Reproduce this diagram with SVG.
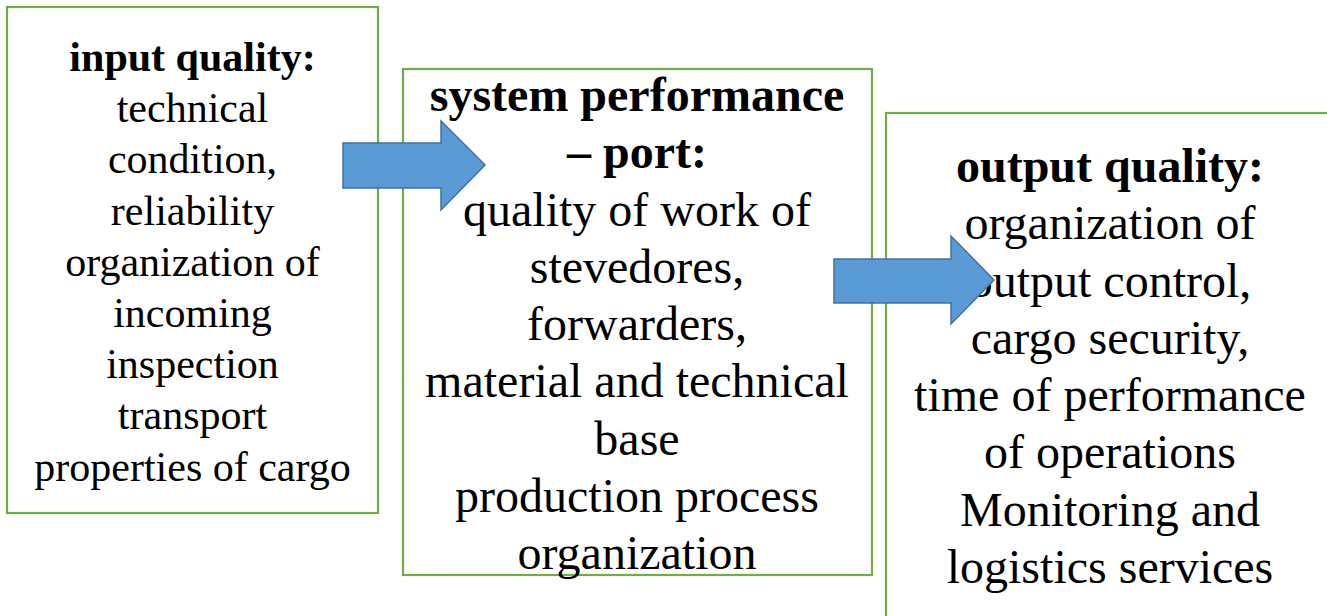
<svg xmlns="http://www.w3.org/2000/svg" width="1327" height="616" viewBox="0 0 1327 616">
<style>
.box{fill:#fff;stroke:#70AD47;stroke-width:2.2}
.arrow{fill:#5B9BD5;stroke:#41719C;stroke-width:1.5;stroke-linejoin:miter}
.t{font-family:"Liberation Serif","Times New Roman",serif;fill:#000;text-anchor:middle}
.s1{font-size:42px}
.s2{font-size:48px}
.b{font-weight:bold}
</style>
<rect width="1327" height="616" fill="#fff"/>
<g id="node-input">
<rect class="box" x="7" y="7" width="371" height="506"/>
<text class="t s1"><tspan class="b" x="192.5" y="71">input quality:</tspan><tspan x="192.5" y="122">technical</tspan><tspan x="192.5" y="173">condition,</tspan><tspan x="192.5" y="225">reliability</tspan><tspan x="192.5" y="276">organization of</tspan><tspan x="192.5" y="327">incoming</tspan><tspan x="192.5" y="378">inspection</tspan><tspan x="192.5" y="429">transport</tspan><tspan x="192.5" y="481">properties of cargo</tspan></text>
</g>
<g id="node-system">
<rect class="box" x="403" y="69" width="469" height="506"/>
<text class="t s2"><tspan class="b" x="637" y="111">system performance</tspan><tspan class="b" x="637" y="168">– port:</tspan><tspan x="637" y="226">quality of work of</tspan><tspan x="637" y="283">stevedores,</tspan><tspan x="637" y="340">forwarders,</tspan><tspan x="637" y="397">material and technical</tspan><tspan x="637" y="455">base</tspan><tspan x="637" y="512">production process</tspan><tspan x="637" y="569">organization</tspan></text>
</g>
<g id="node-output">
<rect class="box" x="886" y="113" width="460" height="520"/>
<text class="t s2"><tspan class="b" x="1110" y="182">output quality:</tspan><tspan x="1110" y="239">organization of</tspan><tspan x="1110" y="297">output control,</tspan><tspan x="1110" y="354">cargo security,</tspan><tspan x="1110" y="411">time of performance</tspan><tspan x="1110" y="468">of operations</tspan><tspan x="1110" y="526">Monitoring and</tspan><tspan x="1110" y="583">logistics services</tspan></text>
</g>
<g id="connectors">
<path class="arrow" d="M343,143 L441,143 L441,121 L485,165 L441,210 L441,188 L343,188 Z"/>
<path class="arrow" d="M834,259 L951,259 L951,236 L994,280 L951,324 L951,303 L834,303 Z"/>
</g>
</svg>
